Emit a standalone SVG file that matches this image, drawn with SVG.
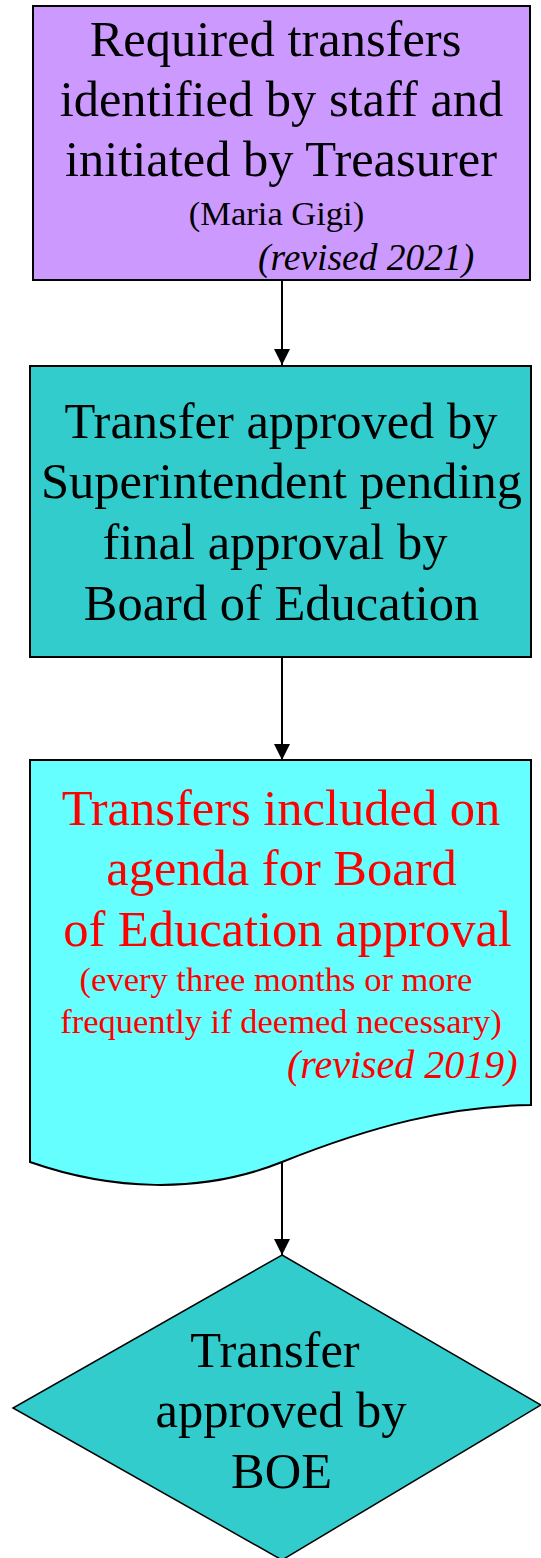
<svg xmlns="http://www.w3.org/2000/svg" width="541" height="1558" viewBox="0 0 541 1558">
<style>
.t{font-family:"Liberation Serif","Times New Roman",serif;font-size:50.5px;fill:#000;text-anchor:middle}
.s{font-size:34.5px}
.i{font-style:italic;text-anchor:start}
.r{fill:#FF0000}
.box{stroke:#000;stroke-width:2}
.conn{stroke:#000;stroke-width:2;fill:none;marker-end:url(#ah)}
</style>
<defs>
<marker id="ah" markerUnits="userSpaceOnUse" markerWidth="17" markerHeight="17" refX="16" refY="8" orient="auto">
<path d="M0,0 L16,8 L0,16 z" fill="#000"/>
</marker>
</defs>
<rect width="541" height="1558" fill="#fff"/>
<g id="connectors">
<line class="conn" x1="282" y1="280" x2="282" y2="365"/>
<line class="conn" x1="282" y1="657" x2="282" y2="760"/>
<line class="conn" x1="282" y1="1162" x2="282" y2="1255"/>
</g>
<g id="node-initiate">
<rect class="box" x="33" y="6" width="497" height="274" fill="#CC99FF"/>
<text class="t" x="275.5" y="56">Required transfers</text>
<text class="t" x="281.5" y="116">identified by staff and</text>
<text class="t" x="281" y="176">initiated by Treasurer</text>
<text class="t s" x="276.5" y="225">(Maria Gigi)</text>
<text class="t i" x="258" y="270" style="font-size:37.5px">(revised 2021)</text>
</g>
<g id="node-superintendent">
<rect class="box" x="30" y="366" width="501" height="291" fill="#33CCCC"/>
<text class="t" x="281" y="438">Transfer approved by</text>
<text class="t" x="281.5" y="498">Superintendent pending</text>
<text class="t" x="275" y="559">final approval by</text>
<text class="t" x="281.5" y="620">Board of Education</text>
</g>
<g id="node-agenda">
<path class="box" d="M30,760 L531,760 L531,1105 C450,1106 372,1126 282,1162 C200,1195 110,1190 30,1162 Z" fill="#66FFFF"/>
<text class="t r" x="281" y="825">Transfers included on</text>
<text class="t r" x="281.5" y="885">agenda for Board</text>
<text class="t r" x="287.5" y="946">of Education approval</text>
<text class="t s r" x="276" y="991">(every three months or more</text>
<text class="t s r" x="281" y="1033">frequently if deemed necessary)</text>
<text class="t i r" x="287" y="1078" style="font-size:40px">(revised 2019)</text>
</g>
<g id="node-boe">
<polygon points="282,1255 541,1405 282,1560 13,1408" fill="#33CCCC" stroke="#000" stroke-width="1.5"/>
<text class="t" x="275" y="1367">Transfer</text>
<text class="t" x="281" y="1427">approved by</text>
<text class="t" x="281.5" y="1488">BOE</text>
</g>
</svg>
